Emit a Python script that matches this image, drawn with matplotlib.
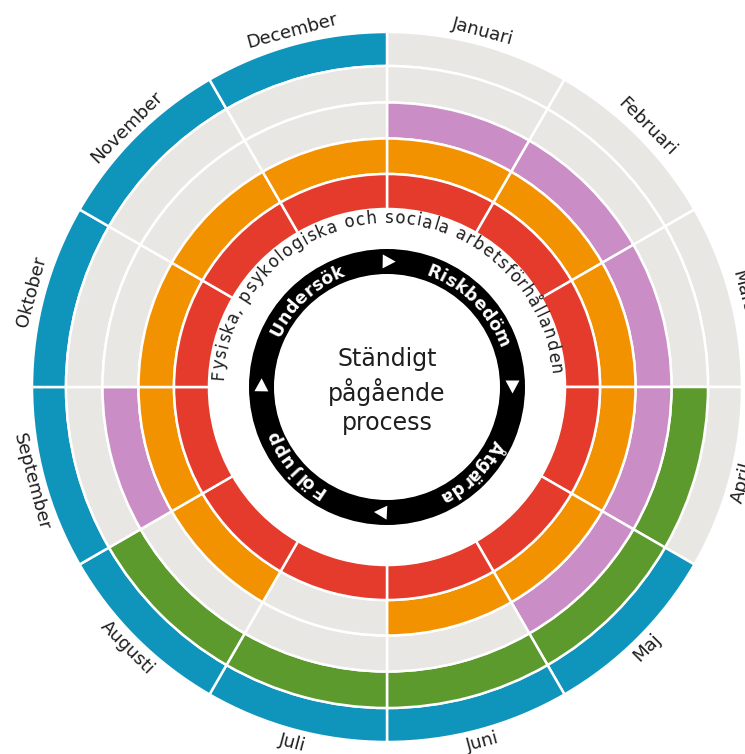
import numpy as np
import matplotlib
matplotlib.use("Agg")
import matplotlib.pyplot as plt
from matplotlib.patches import Wedge, Polygon
from matplotlib.font_manager import FontProperties

months = ["Januari", "Februari", "Mars", "April", "Maj", "Juni",
          "Juli", "Augusti", "September", "Oktober", "November", "December"]

# colour per month, outermost ring first
ring_1 = ["grå", "grå", "grå", "grå", "blå", "blå", "blå", "blå", "blå", "blå", "blå", "blå"]
ring_2 = ["grå", "grå", "grå", "grön", "grön", "grön", "grön", "grön", "grå", "grå", "grå", "grå"]
ring_3 = ["lila", "lila", "lila", "lila", "lila", "grå", "grå", "grå", "lila", "grå", "grå", "grå"]
ring_4 = ["orange", "orange", "orange", "orange", "orange", "orange", "grå", "orange", "orange", "orange", "orange", "orange"]
ring_5 = ["röd"] * 12
rings = [ring_1, ring_2, ring_3, ring_4, ring_5]

colors = {"grå": "#E9E7E4", "blå": "#0F94BC", "grön": "#5C9A2E",
          "lila": "#CB8DC6", "orange": "#F39200", "röd": "#E53B2D"}

process_steps = ["Undersök", "Riskbedöm", "Åtgärda", "Följ upp"]
step_angles = [317, 45, 135, 230]
arrow_angles = [1, 90, 183, 271]
outer_text = "Fysiska, psykologiska och sociala arbetsförhållanden"
center_text = "Ständigt\npågående\nprocess"

W, H = 745, 754
CX, CY = 387, 387
ring_edges = [355, 321, 284.5, 248.5, 213, 178]
TEXT_COL = "#1e1e1e"

fig = plt.figure(figsize=(W / 100, H / 100), dpi=100)
ax = fig.add_axes([0, 0, 1, 1])
ax.set_xlim(-CX, W - CX)
ax.set_ylim(CY - H, CY)
ax.axis("off")
renderer = fig.canvas.get_renderer()

step = 360 / len(months)
for k, ring in enumerate(rings):
    r_out, r_in = ring_edges[k], ring_edges[k + 1]
    for i, c in enumerate(ring):
        ax.add_patch(Wedge((0, 0), r_out, 90 - step * (i + 1), 90 - step * i,
                           width=r_out - r_in, facecolor=colors[c],
                           edgecolor="white", linewidth=1.8))

# black process ring
ax.add_patch(Wedge((0, 0), 138, 0, 360, width=25, facecolor="black", edgecolor="none"))
r_mid = 125.5
for a in arrow_angles:
    t = np.radians(a)
    p = r_mid * np.array([np.sin(t), np.cos(t)])
    tan = np.array([np.cos(t), -np.sin(t)])
    nrm = np.array([np.sin(t), np.cos(t)])
    pts = [p + tan * 6.5, p - tan * 6.5 + nrm * 7, p - tan * 6.5 - nrm * 7]
    ax.add_patch(Polygon(pts, closed=True, facecolor="white", edgecolor="none"))


def text_width(s, prop):
    return renderer.get_text_width_height_descent(s, prop, ismath=False)[0]


def advances(s, prop):
    base = text_width("HH", prop)
    return np.array([text_width("H" + ch + "H", prop) - base for ch in s])


def curved_text(s, r, mid, prop, color, track=0.0):
    # characters run clockwise, tops facing outward
    adv = advances(s, prop) + track
    pos = np.cumsum(adv) - adv / 2 - adv.sum() / 2
    for ch, p in zip(s, pos):
        a = mid + np.degrees(p / r)
        t = np.radians(a)
        ax.text(r * np.sin(t), r * np.cos(t), ch, rotation=-a, rotation_mode="anchor",
                ha="center", va="baseline", fontproperties=prop, color=color)


step_prop = FontProperties(family="DejaVu Sans", weight="bold", size=12.5)
for s, a in zip(process_steps, step_angles):
    curved_text(s, 118.5, a, step_prop, "white")

# outer descriptive text, spread over its arc
r_txt, span = 164, 173.5
prop = FontProperties(family="DejaVu Sans", size=12)
natural = advances(outer_text, prop).sum()
track = (np.radians(span) * r_txt - natural) / len(outer_text)
curved_text(outer_text, r_txt, -1, prop, TEXT_COL, track)

ax.text(0, -4, center_text, ha="center", va="center", fontsize=17,
        linespacing=1.3, color=TEXT_COL)

label_r = 368
for i, m in enumerate(months):
    a = step * (i + 0.5)
    t = np.radians(a)
    rot = -a if (a < 90 or a > 270) else 180 - a
    ax.text(label_r * np.sin(t), label_r * np.cos(t), m, rotation=rot,
            rotation_mode="anchor", ha="center", va="center", fontsize=13, color=TEXT_COL)

fig.savefig("out.png", dpi=100)
